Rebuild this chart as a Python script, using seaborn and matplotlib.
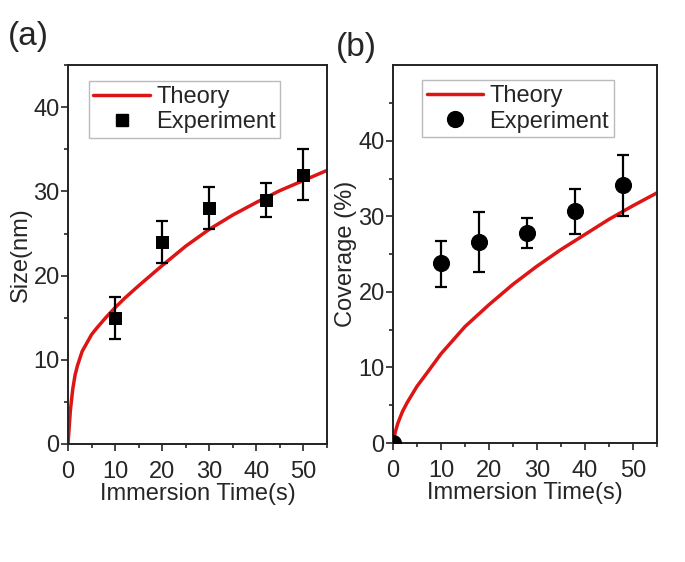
import numpy as np
import pandas as pd
import seaborn as sns
import matplotlib.pyplot as plt
from matplotlib.lines import Line2D

# panel (a): particle size
size_t = [10, 20, 30, 42, 50]
size_y = [15, 24, 28, 29, 32]
size_lo = [12.5, 21.5, 25.5, 27, 29]
size_hi = [17.5, 26.5, 30.5, 31, 35]
theory_a_t = [0, 0.5, 1, 1.5, 2, 3, 4, 5, 6, 8, 10, 12, 15, 20, 25, 30, 35, 40, 45, 50, 55]
theory_a_y = [0, 4, 6.5, 8.2, 9.3, 11, 12, 13, 13.7, 15, 16.2, 17.3, 18.8, 21.2, 23.5,
              25.5, 27.2, 28.7, 30.1, 31.3, 32.5]

# panel (b): coverage
cov_t = [0, 10, 18, 28, 38, 48]
cov_y = [0, 23.8, 26.6, 27.8, 30.7, 34.1]
cov_lo = [0, 20.7, 22.6, 25.8, 27.7, 30.1]
cov_hi = [0, 26.7, 30.6, 29.8, 33.6, 38.1]
theory_b_t = [0, 0.5, 1, 2, 3, 5, 7, 10, 15, 20, 25, 30, 35, 40, 45, 50, 55]
theory_b_y = [0, 1.5, 2.6, 4.2, 5.4, 7.5, 9.2, 11.8, 15.4, 18.3, 21, 23.4, 25.6, 27.6,
              29.6, 31.4, 33.1]

sns.set_style('ticks')
plt.rcParams['font.family'] = ['Liberation Sans', 'DejaVu Sans']
plt.rcParams['font.size'] = 17

RED = '#dd1515'
FS = 17

fig = plt.figure(figsize=(6.85, 5.62), dpi=100)
ax_a = fig.add_axes([0.0993, 0.210, 0.378, 0.674])
ax_b = fig.add_axes([0.5737, 0.2117, 0.385, 0.672])


def draw_panel(ax, tt, ty, xs, ys, lo, hi, marker, msize, ylim, ylabel, leg_anchor):
    sns.lineplot(x=tt, y=ty, ax=ax, color=RED, lw=2.5, zorder=2)
    ys = np.array(ys)
    yerr = [ys - np.array(lo), np.array(hi) - ys]
    ax.errorbar(xs, ys, yerr=yerr, fmt='none', ecolor='black', elinewidth=1.6,
                capsize=4, capthick=1.6, zorder=3)
    sns.scatterplot(x=xs, y=ys, ax=ax, marker=marker, s=msize, color='black',
                    edgecolor='black', zorder=4)
    ax.set_xlim(0, 55)
    ax.set_ylim(*ylim)
    ax.set_xticks([0, 10, 20, 30, 40, 50])
    ax.set_xticks(np.arange(5, 56, 10), minor=True)
    ax.set_yticks([0, 10, 20, 30, 40])
    ax.set_yticks(np.arange(5, ylim[1] + 0.1, 10), minor=True)
    ax.tick_params(which='major', direction='out', length=5, width=1.2, labelsize=FS)
    ax.tick_params(which='minor', direction='out', length=3, width=1.2)
    ax.tick_params(axis='x', which='major', pad=7)
    ax.tick_params(axis='y', which='major', pad=1)
    for s in ax.spines.values():
        s.set_linewidth(1.4)
        s.set_color('#222222')
    ax.set_xlabel('Immersion Time(s)', fontsize=FS, labelpad=0)
    ax.set_ylabel(ylabel, fontsize=FS, labelpad=1)
    handles = [Line2D([], [], color=RED, lw=2.5),
               Line2D([], [], color='black', marker=marker, ls='none',
                      markersize=np.sqrt(msize))]
    ax.legend(handles, ['Theory', 'Experiment'], loc='upper left',
              bbox_to_anchor=leg_anchor, fontsize=FS, frameon=True, fancybox=False,
              edgecolor='#aaaaaa', handlelength=2.4, handletextpad=0.25,
              borderpad=0.2, labelspacing=0.15, borderaxespad=0)


draw_panel(ax_a, theory_a_t, theory_a_y, size_t, size_y, size_lo, size_hi, 's', 80,
           (0, 45), 'Size(nm)', (0.08, 0.958))
draw_panel(ax_b, theory_b_t, theory_b_y, cov_t, cov_y, cov_lo, cov_hi, 'o', 130,
           (0, 50), 'Coverage (%)', (0.11, 0.96))

fig.text(0.012, 0.92, '(a)', fontsize=24)
fig.text(0.49, 0.90, '(b)', fontsize=24)

fig.savefig('out.png', dpi=100)
